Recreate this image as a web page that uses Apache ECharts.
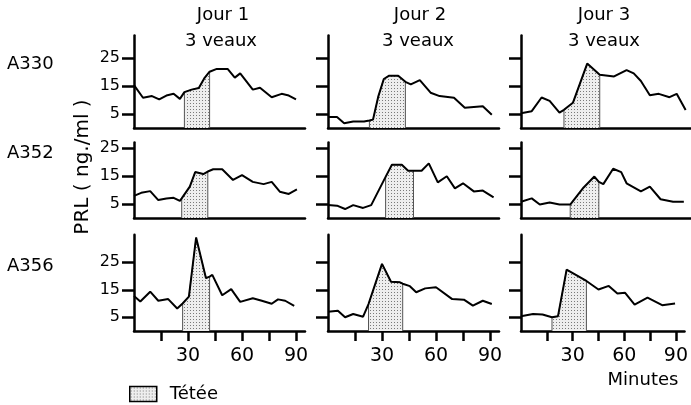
<!DOCTYPE html>
<html>
<head>
<meta charset="utf-8">
<script src="https://cdn.jsdelivr.net/npm/echarts@6/dist/echarts.min.js"></script>
<style>
  html, body { margin: 0; background: #fff; }
  #chart { width: 691px; height: 405px; }
</style>
</head>
<body>
<div id="chart"></div>
<script>
// [minutes, PRL ng/ml]
var a330j1 = [[0,15.3],[5,10.8],[10,11.4],[14,10.2],[18,11.6],[22,12.2],[25.5,10.4],[28,12.8],[32,13.7],[36,14.3],[39,17.7],[42,20.1],[46,21.1],[52,21.1],[56,18],[59,19.5],[66,13.7],[70,14.4],[76.5,11],[82,12.2],[86,11.6],[90,10.2]];
var a330j2 = [[0,3.9],[5,3.9],[9,1.7],[14,2.3],[20,2.3],[23,2.7],[25,3],[28,11.4],[31,17.5],[34,18.7],[39,18.7],[43,16.5],[46,15.6],[51,17.1],[57,12.6],[62,11.4],[70,10.8],[76,7.2],[86,7.8],[91,4.7]];
var a330j3 = [[0,5.3],[6,6],[11.5,10.9],[16,9.7],[21.5,5.5],[24,6.5],[29,9],[37,23],[44,19],[52,18.4],[59,20.7],[63,19.5],[67,16.8],[72,11.7],[77,12.2],[83,11],[87,12.2],[92,6.4]];

var a352j1 = [[0,7.9],[4,9],[9,9.6],[13.5,6.4],[18,7],[22,7.2],[25.5,6.1],[26.5,7],[31,11.2],[34,16.4],[38.5,15.7],[41,16.6],[44,17.4],[49,17.4],[55,13.6],[60,15.3],[66,12.9],[72,12.1],[76.5,12.9],[81,9.4],[86,8.6],[90.5,10.2]];
var a352j2 = [[0,4.6],[5,4.4],[9.5,3.2],[14,4.6],[19.5,3.6],[24,4.6],[32,14.7],[35.5,19],[41,19],[44.5,16.9],[47.5,16.9],[52,16.9],[56,19.5],[61,12.7],[66,14.9],[70.5,10.6],[75,12.4],[81,9.5],[86,9.8],[92,7.4]];
var a352j3 = [[0,5.8],[6,7],[10.5,4.8],[16,5.5],[21.5,4.8],[27.5,4.8],[35,10.9],[41,14.8],[43.5,12.9],[46,12.1],[51.5,17.6],[56,16.4],[59,12.4],[67,9.5],[72,11.2],[78,6.7],[85,5.8],[91,5.8]];

var a356j1 = [[0,12.7],[3.5,10.7],[9,14.3],[13.5,11],[19,11.6],[24,8.2],[27,10],[30.5,12.5],[34.5,34],[40,19.2],[42,19.8],[43.5,20.4],[49,13],[54,15.2],[59,10.6],[66,11.9],[71,11],[76.5,9.9],[80,11.5],[84,11],[89,9.1]];
var a356j2 = [[0,7],[5.5,7.4],[9.5,5],[14,6.2],[19.5,5.2],[22.5,9.8],[30,24.4],[35,17.9],[40,17.7],[41.5,17.2],[45.5,16.3],[49,14.1],[54,15.5],[60,15.9],[69,11.6],[75.5,11.4],[80.5,9.2],[86,11],[91,9.8]];
var a356j3 = [[0,5.4],[7,6.2],[12.5,6],[18,5],[21.5,5.4],[26.5,22.3],[38,18.2],[45,15.1],[51,16.4],[56,13.6],[60.5,13.9],[66,9.6],[73.5,12.1],[82,9.4],[89.5,10]];

// suckling (tetee) start / end minute, per day
var teteeA330 = [[28,42],[23,43],[24,44]];
var teteeA352 = [[26.5,41],[32,47.5],[27.5,43.5]];
var teteeA356 = [[27,42],[22.5,41.5],[18,38]];

var animals = ['A330', 'A352', 'A356'];
var days = ['Jour 1', 'Jour 2', 'Jour 3'];
var yTicks = [5, 15, 25];
var xTicks = [15, 30, 45, 60, 75, 90];
var xLabels = [30, 60, 90];

var panels = [[a330j1, a330j2, a330j3], [a352j1, a352j2, a352j3], [a356j1, a356j2, a356j3]];
var tetee = [teteeA330, teteeA352, teteeA356];

// layout
var colLeft = [134, 328, 521];
var rowBottom = [128, 218, 331];
var rowUnit = [2.8, 2.8, 2.75];
var rowMax = [33, 27, 35];
var FONT = 'DejaVu Sans';

// stipple pattern for the shaded area
var pat = document.createElement('canvas');
pat.width = 3; pat.height = 3;
var pctx = pat.getContext('2d');
pctx.fillStyle = '#eeeeee';
pctx.fillRect(0, 0, 3, 3);
pctx.fillStyle = '#7a7a7a';
pctx.fillRect(1, 1, 1, 1);
var stipple = { image: pat, repeat: 'repeat' };

var chart = echarts.init(document.getElementById('chart'));

var grids = [], xAxes = [], yAxes = [], series = [];
for (var r = 0; r < 3; r++) {
	for (var c = 0; c < 3; c++) {
		var i = grids.length;
		var h = rowMax[r] * rowUnit[r];
		grids.push({ left: colLeft[c], top: rowBottom[r] - h, width: 171, height: h });
		xAxes.push({
			type: 'value', gridIndex: i, min: 0, max: 95,
			axisLine: { lineStyle: { color: '#000', width: 2.5 } },
			axisTick: { show: r === 2, customValues: xTicks, length: 10, lineStyle: { color: '#000', width: 2.5 } },
			axisLabel: { show: r === 2, customValues: xLabels, fontSize: 19, fontFamily: FONT, color: '#000', margin: 16 },
			splitLine: { show: false }
		});
		yAxes.push({
			type: 'value', gridIndex: i, min: 0, max: rowMax[r],
			axisLine: { show: true, lineStyle: { color: '#000', width: 2.5 } },
			axisTick: { show: true, customValues: yTicks, length: 12, lineStyle: { color: '#000', width: 2.5 } },
			axisLabel: { show: c === 0, customValues: yTicks, fontSize: 16, fontFamily: FONT, color: '#000', margin: 14, padding: [0, 0, 8, 0] },
			splitLine: { show: false }
		});

		var pts = panels[r][c];
		var s = tetee[r][c][0], e = tetee[r][c][1];
		var shade = [[s, 0]];
		pts.forEach(function (p) { if (p[0] >= s && p[0] <= e) shade.push(p); });
		shade.push([e, 0]);

		series.push({
			name: 'Tétée', type: 'line', xAxisIndex: i, yAxisIndex: i,
			data: shade, symbol: 'none', silent: true, z: 2,
			lineStyle: { color: '#555', width: 1 },
			itemStyle: { color: '#bbb' },
			areaStyle: { color: stipple, opacity: 1 }
		});
		series.push({
			name: animals[r] + ' ' + days[c], type: 'line', xAxisIndex: i, yAxisIndex: i,
			data: pts, symbol: 'none', silent: true, z: 3,
			lineStyle: { color: '#000', width: 2 }
		});
	}
}

var txt = function (x, y, text, size, align) {
	return {
		type: 'text', x: x, y: y,
		style: { text: text, font: size + 'px "' + FONT + '"', fill: '#000', align: align || 'center', textAlign: align || 'center', verticalAlign: 'middle', textVerticalAlign: 'middle' }
	};
};

var graphics = [
	txt(223, 15, 'Jour 1', 18), txt(221, 41, '3 veaux', 18),
	txt(420, 15, 'Jour 2', 18), txt(418, 41, '3 veaux', 18),
	txt(604, 15, 'Jour 3', 18), txt(604, 41, '3 veaux', 18),
	txt(7, 64, 'A330', 18, 'left'),
	txt(7, 153, 'A352', 18, 'left'),
	txt(7, 266, 'A356', 18, 'left'),
	txt(643, 380, 'Minutes', 18)
];
var prl = txt(83, 167, 'PRL ( ng./ml )', 20);
prl.rotation = Math.PI / 2;
graphics.push(prl);

chart.setOption({
	backgroundColor: '#fff',
	animation: false,
	grid: grids,
	xAxis: xAxes,
	yAxis: yAxes,
	series: series,
	legend: {
		left: 129, top: 385, padding: 0, itemWidth: 27, itemHeight: 15, selectedMode: false,
		data: [{ name: 'Tétée', icon: 'rect', itemStyle: { color: stipple, borderColor: '#000', borderWidth: 1.5 } }],
		textStyle: { fontSize: 18, fontFamily: FONT, color: '#000', padding: [0, 0, 0, 8] }
	},
	graphic: graphics
});
</script>
</body>
</html>
